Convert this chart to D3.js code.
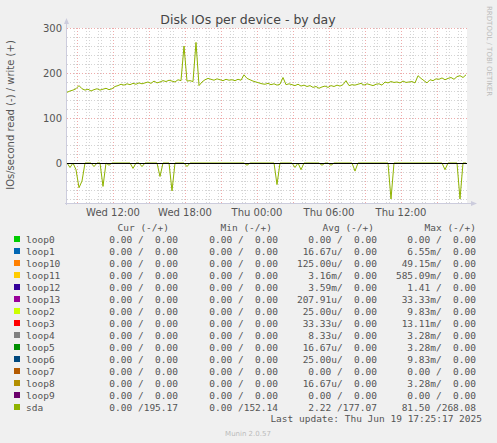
<!DOCTYPE html><html><head><meta charset="utf-8"><script src="https://cdn.jsdelivr.net/npm/d3@7"></script>
<style>body{margin:0;background:#f0f0f0}svg{display:block}</style></head><body><svg id="c" width="497" height="443"></svg>
<script>
const writeVals=[157,160,162,165,172,165,162,164,160,163,165,162,164,166,163,165,170,172,175,173,176,174,177,175,178,176,178,180,177,182,178,180,183,181,184,182,180,185,183,260,182,183,181,268,172,180,185,188,186,184,187,185,183,186,184,185,183,186,184,196,188,185,182,180,178,176,175,177,174,176,173,175,190,174,176,174,172,175,171,173,170,172,168,170,166,169,171,168,172,170,173,171,174,183,172,174,173,175,177,173,176,174,172,175,176,173,180,178,181,179,180,178,182,179,180,181,178,194,188,183,178,185,183,187,186,189,185,188,190,186,192,194,190,196];
const readSpikes=[[1,-10],[3,-15],[4,-55],[5,-40],[9,-8],[12,-52],[14,-5],[22,-12],[25,-8],[31,-30],[35,-62],[40,-8],[60,-5],[70,-48],[76,-10],[78,-15],[85,-5],[88,-5],[96,-18],[108,-80],[126,-15],[131,-80]];
const legendNames=["loop0","loop1","loop10","loop11","loop12","loop13","loop2","loop3","loop4","loop5","loop6","loop7","loop8","loop9","sda"];
const legendColors=["#00CC00","#0066B3","#FF8000","#FFCC00","#330099","#990099","#CCFF00","#FF0000","#808080","#008F00","#00487D","#B35A00","#B38F00","#6B006B","#8FB300"];
const curVals=["0.00 /  0.00","0.00 /  0.00","0.00 /  0.00","0.00 /  0.00","0.00 /  0.00","0.00 /  0.00","0.00 /  0.00","0.00 /  0.00","0.00 /  0.00","0.00 /  0.00","0.00 /  0.00","0.00 /  0.00","0.00 /  0.00","0.00 /  0.00","0.00 /195.17"];
const minVals=["0.00 /  0.00","0.00 /  0.00","0.00 /  0.00","0.00 /  0.00","0.00 /  0.00","0.00 /  0.00","0.00 /  0.00","0.00 /  0.00","0.00 /  0.00","0.00 /  0.00","0.00 /  0.00","0.00 /  0.00","0.00 /  0.00","0.00 /  0.00","0.00 /152.14"];
const avgVals=["0.00 /  0.00","16.67u/  0.00","125.00u/  0.00","3.16m/  0.00","3.59m/  0.00","207.91u/  0.00","25.00u/  0.00","33.33u/  0.00","8.33u/  0.00","16.67u/  0.00","25.00u/  0.00","0.00 /  0.00","16.67u/  0.00","0.00 /  0.00","2.22 /177.07"];
const maxVals=["0.00 /  0.00","6.55m/  0.00","49.15m/  0.00","585.09m/  0.00","1.41 /  0.00","33.33m/  0.00","9.83m/  0.00","13.11m/  0.00","3.28m/  0.00","3.28m/  0.00","9.83m/  0.00","0.00 /  0.00","3.28m/  0.00","0.00 /  0.00","81.50 /268.08"];
const yTicks=[0,100,200,300];
const xTickLabels=["Wed 12:00","Wed 18:00","Thu 00:00","Thu 06:00","Thu 12:00"];

const svg=d3.select("#c");
const L=67,R=467,T=28,B=203;
const t0=new Date(2025,5,18,8,10), t1=new Date(2025,5,19,17,30);
const x=d3.scaleTime().domain([t0,t1]).range([L,R]);
const y=d3.scaleLinear().domain([-88.9,300]).range([B,T]);
const tAt=i=>new Date(t0.getTime()+i*15*60000);
svg.append("rect").attr("x",L).attr("y",T).attr("width",R-L).attr("height",B-T).attr("fill","#fff");
const g=svg.append("g");
d3.range(-80,301,20).filter(v=>v%100!==0).forEach(v=>g.append("line").attr("x1",L).attr("x2",R).attr("y1",Math.round(y(v))+.5).attr("y2",Math.round(y(v))+.5).attr("stroke","#d4d4d4").attr("stroke-dasharray","1,2"));
d3.timeMinute.every(45).range(new Date(2025,5,18,8,15),t1).forEach(d=>g.append("line").attr("x1",Math.round(x(d))+.5).attr("x2",Math.round(x(d))+.5).attr("y1",T).attr("y2",B).attr("stroke","#d4d4d4").attr("stroke-dasharray","1,2"));
d3.timeHour.every(3).range(new Date(2025,5,18,9,0),t1).forEach(d=>g.append("line").attr("x1",Math.round(x(d))+.5).attr("x2",Math.round(x(d))+.5).attr("y1",T).attr("y2",B).attr("stroke","#eaa").attr("stroke-dasharray","1,2"));
yTicks.forEach(v=>g.append("line").attr("x1",L).attr("x2",R).attr("y1",Math.round(y(v))+.5).attr("y2",Math.round(y(v))+.5).attr("stroke","#eaa").attr("stroke-dasharray","1,2"));
svg.append("line").attr("x1",L-0.5).attr("x2",L-0.5).attr("y1",B+2).attr("y2",T-6).attr("stroke","#ccd");
svg.append("path").attr("d",`M${L-3},${T-4}L${L-0.5},${T-10}L${L+2},${T-4}Z`).attr("fill","#ccd");
svg.append("line").attr("x1",L-2).attr("x2",R+6).attr("y1",B+.5).attr("y2",B+.5).attr("stroke","#ccd");
svg.append("path").attr("d",`M${R+4},${B-2}L${R+10},${B+.5}L${R+4},${B+3}Z`).attr("fill","#ccd");
yTicks.forEach(v=>svg.append("text").attr("x",L-5).attr("y",y(v)+4).attr("text-anchor","end").attr("font-family","DejaVu Sans").attr("font-size",10).attr("fill","#555").text(v));
const xTickTimes=[new Date(2025,5,18,12),new Date(2025,5,18,18),new Date(2025,5,19,0),new Date(2025,5,19,6),new Date(2025,5,19,12)];
xTickTimes.forEach((d,i)=>svg.append("text").attr("x",x(d)).attr("y",216).attr("text-anchor","middle").attr("font-family","DejaVu Sans").attr("font-size",10).attr("fill","#555").text(xTickLabels[i]));
const readVals=writeVals.map(()=>0); readSpikes.forEach(([i,v])=>readVals[i]=v);
const line=d3.line().x((d,i)=>x(tAt(i))).y(d=>y(d));
svg.append("path").datum(writeVals).attr("d",line).attr("fill","none").attr("stroke","#8FB300").attr("stroke-width",1);
svg.append("path").datum(readVals).attr("d",line).attr("fill","none").attr("stroke","#8FB300").attr("stroke-width",1);
svg.append("line").attr("x1",L).attr("x2",R).attr("y1",Math.round(y(0))+.5).attr("y2",Math.round(y(0))+.5).attr("stroke","#000");
svg.append("text").attr("x",248).attr("y",24).attr("text-anchor","middle").attr("font-family","DejaVu Sans").attr("font-size",12.5).attr("fill","#444").text("Disk IOs per device - by day");
svg.append("text").attr("transform","translate(14,115) rotate(-90)").attr("text-anchor","middle").attr("font-family","DejaVu Sans").attr("font-size",10).attr("fill","#555").text("IOs/second read (-) / write (+)");
svg.append("text").attr("transform","translate(487,6) rotate(90)").attr("font-family","DejaVu Sans").attr("font-size",7).attr("fill","#bbb").text("RRDTOOL / TOBI OETIKER");
const mono={"font-family":"DejaVu Sans Mono","font-size":9.5,"fill":"#555"};
const tx=(xx,yy,s,anc)=>{const e=svg.append("text").attr("x",xx).attr("y",yy).attr("text-anchor",anc||"start").attr("xml:space","preserve").text(s);for(const k in mono)e.attr(k,mono[k]);return e;};
tx(169,231,"Cur (-/+)","end");tx(272,231,"Min (-/+)","end");tx(374,231,"Avg (-/+)","end");tx(476,231,"Max (-/+)","end");
legendNames.forEach((n,i)=>{const yy=243+i*12;
 svg.append("rect").attr("x",14).attr("y",yy-7).attr("width",6).attr("height",6).attr("fill",legendColors[i]);
 tx(26,yy,n);tx(178,yy,curVals[i],"end");tx(278,yy,minVals[i],"end");tx(377,yy,avgVals[i],"end");tx(476,yy,maxVals[i],"end");});
tx(482,422,"Last update: Thu Jun 19 17:25:17 2025","end");
svg.append("text").attr("x",248).attr("y",436).attr("text-anchor","middle").attr("font-family","DejaVu Sans").attr("font-size",7).attr("fill","#bbb").text("Munin 2.0.57");
</script></body></html>
